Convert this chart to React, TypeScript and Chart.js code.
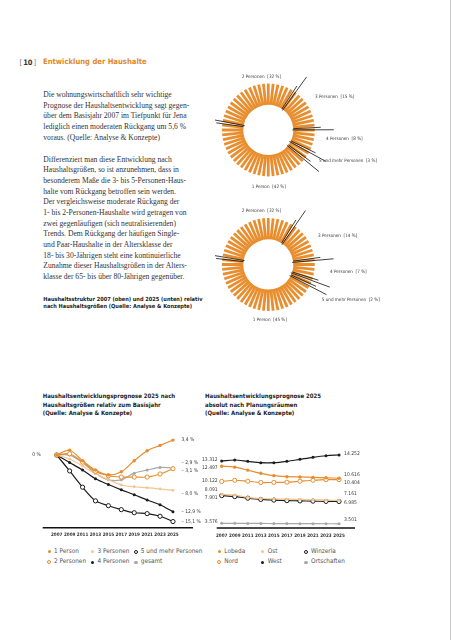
import React, { useEffect, useRef } from 'react';
import { Chart, registerables } from 'chart.js';

Chart.register(...registerables);

// ---------- data ----------
const years = [2007, 2009, 2011, 2013, 2015, 2017, 2019, 2021, 2023, 2025];

const hhCategories = ['1 Person', '2 Personen', '3 Personen', '4 Personen', '5 und mehr Personen'];
const hhShare2007 = [42, 32, 15, 8, 3];
const hhShare2025 = [45, 32, 14, 7, 2];

const relSeriesNames = ['1 Person', '2 Personen', '3 Personen', '4 Personen', '5 und mehr Personen', 'gesamt'];
const rel1Person = [0, 1.1, -1.3, -3.4, -4.5, -3.8, -1.3, 1.0, 2.2, 3.4];
const rel2Personen = [0, 0.3, -1.6, -3.7, -4.7, -5.0, -5.0, -5.0, -4.3, -3.1];
const rel3Personen = [0, -0.9, -2.5, -4.2, -5.6, -6.8, -7.2, -7.4, -7.7, -8.0];
const rel4Personen = [0, -1.7, -3.4, -5.4, -6.7, -7.9, -9.0, -10.2, -11.3, -12.9];
const rel5Plus = [0, -3.6, -7.3, -10.4, -11.5, -12.4, -13.1, -13.3, -13.9, -15.1];
const relGesamt = [0, 0, -1.7, -4.1, -5.6, -5.6, -4.1, -3.4, -2.8, -2.9];

const absSeriesNames = ['Lobeda', 'Nord', 'Ost', 'West', 'Winzerla', 'Ortschaften'];
const absLobeda = [12497, 12350, 11880, 11390, 11020, 10860, 10820, 10760, 10690, 10616];
const absNord = [10122, 10300, 10150, 9950, 9960, 10000, 10150, 10300, 10400, 10404];
const absOst = [8091, 8000, 7640, 7450, 7400, 7350, 7300, 7250, 7200, 7161];
const absWest = [13312, 13470, 13260, 13050, 13050, 13260, 13570, 13880, 14130, 14252];
const absWinzerla = [7901, 7750, 7500, 7300, 7200, 7120, 7080, 7040, 7000, 6985];
const absOrtschaften = [3576, 3570, 3560, 3550, 3540, 3530, 3520, 3515, 3508, 3501];

// ---------- styles ----------
const ORANGE = '#E88E2E';
const LIGHT = '#F4C58E';
const BLACK = '#1c1c1c';
const GREY = '#a8a8a8';
const TEXT = '#3a3a3a';
const NARROW = '"Liberation Sans Narrow", "DejaVu Sans Condensed", "Liberation Sans", sans-serif';
const SERIF = '"Liberation Serif", serif';

const seriesStyles = [
  { color: ORANGE, hollow: false, r: 1.7 },
  { color: ORANGE, hollow: true, r: 2.1 },
  { color: LIGHT, hollow: false, r: 1.4 },
  { color: BLACK, hollow: false, r: 1.5 },
  { color: BLACK, hollow: true, r: 2.1 },
  { color: GREY, hollow: false, r: 1.5 },
];

const fmtPct = (v: number) =>
  v === 0 ? '0 %' : (v < 0 ? '– ' : '') + Math.abs(v).toFixed(1).replace('.', ',') + ' %';
const fmtAbs = (v: number) => String(v).replace(/\B(?=(\d{3})+(?!\d))/g, '.');

// ---------- plugins ----------
const donutDecor = {
  id: 'donutDecor',
  afterDatasetsDraw(chart: any, _a: any, opts: any) {
    const arcs = chart.getDatasetMeta(0).data;
    if (!arcs.length) return;
    const p = arcs[0].getProps(['x', 'y', 'innerRadius', 'outerRadius'], true);
    const cx = p.x, cy = p.y, ri = p.innerRadius, ro = p.outerRadius;
    const ctx = chart.ctx;
    ctx.save();
    // stripes: cut gaps between bars of constant width
    ctx.globalCompositeOperation = 'destination-out';
    const n = opts.stripes;
    const w = opts.barWidth;
    const rz = Math.max(ri - 2, w / (2 * Math.sin(Math.PI / n)));
    const r1 = ro + 2;
    for (let i = 0; i < n; i++) {
      const a1 = (i / n) * Math.PI * 2 + opts.phase;
      const a2 = ((i + 1) / n) * Math.PI * 2 + opts.phase;
      const c1 = Math.cos(a1), s1 = Math.sin(a1), c2 = Math.cos(a2), s2 = Math.sin(a2);
      ctx.beginPath();
      ctx.moveTo(cx + rz * c1 - (w / 2) * s1, cy + rz * s1 + (w / 2) * c1);
      ctx.lineTo(cx + r1 * c1 - (w / 2) * s1, cy + r1 * s1 + (w / 2) * c1);
      ctx.lineTo(cx + r1 * c2 + (w / 2) * s2, cy + r1 * s2 - (w / 2) * c2);
      ctx.lineTo(cx + rz * c2 + (w / 2) * s2, cy + rz * s2 - (w / 2) * c2);
      ctx.closePath();
      ctx.fill();
    }
    ctx.globalCompositeOperation = 'source-over';
    // boundary leader lines
    ctx.strokeStyle = '#111';
    ctx.lineWidth = 0.8;
    arcs.forEach((arc: any) => {
      const a = arc.startAngle;
      const d = 1.4 * Math.PI / 180;
      const seg = (ang: number, ra: number, rb: number) => {
        ctx.beginPath();
        ctx.moveTo(cx + ra * Math.cos(ang), cy + ra * Math.sin(ang));
        ctx.lineTo(cx + rb * Math.cos(ang), cy + rb * Math.sin(ang));
        ctx.stroke();
      };
      seg(a + d, ri - 1, ro + 19);
      seg(a - d, ri, ro + 6);
    });
    // labels
    ctx.fillStyle = TEXT;
    ctx.font = `4.6px ${NARROW}`;
    ctx.textAlign = 'left';
    ctx.textBaseline = 'middle';
    opts.labels.forEach((t: string, i: number) => {
      const o = opts.offsets[i];
      ctx.fillText(t, cx + o[0], cy + o[1]);
    });
    ctx.restore();
  },
};

const lineDecor = {
  id: 'lineDecor',
  afterDraw(chart: any, _a: any, opts: any) {
    const { ctx, chartArea, scales } = chart;
    ctx.save();
    ctx.strokeStyle = '#111';
    ctx.lineWidth = 1.4;
    ctx.beginPath();
    ctx.moveTo(chartArea.left, chartArea.bottom);
    ctx.lineTo(chartArea.right, chartArea.bottom);
    ctx.stroke();
    ctx.fillStyle = '#333';
    ctx.font = `bold 4.6px ${NARROW}`;
    ctx.textAlign = 'center';
    ctx.textBaseline = 'middle';
    years.forEach((yr) => ctx.fillText(String(yr), scales.x.getPixelForValue(yr), chartArea.bottom + 7.5));
    ctx.font = `5px ${NARROW}`;
    ctx.fillStyle = TEXT;
    (opts.startLabels || []).forEach((l: any) => {
      const pt = chart.getDatasetMeta(l.ds).data[0];
      ctx.textAlign = 'right';
      ctx.fillText(l.text, pt.x - l.dx, pt.y + l.dy);
    });
    (opts.endLabels || []).forEach((l: any) => {
      const d = chart.getDatasetMeta(l.ds).data;
      const pt = d[d.length - 1];
      ctx.textAlign = 'left';
      ctx.fillText(l.text, pt.x + l.dx, pt.y + l.dy);
    });
    ctx.restore();
  },
};

// ---------- components ----------
function Donut(props: { left: number; top: number; shares: number[]; rotation: number; offsets: number[][]; pad: any; h: number }) {
  const ref = useRef<HTMLCanvasElement>(null);
  useEffect(() => {
    const chart = new Chart(ref.current as HTMLCanvasElement, {
      type: 'doughnut',
      data: {
        labels: hhCategories,
        datasets: [{ data: props.shares, backgroundColor: ORANGE, borderWidth: 0, hoverOffset: 0 }],
      },
      options: {
        animation: false,
        responsive: false,
        events: [],
        rotation: props.rotation,
        radius: 46.5,
        cutout: '53.8%',
        layout: { padding: props.pad },
        plugins: {
          legend: { display: false },
          tooltip: { enabled: false },
          donutDecor: {
            stripes: 60,
            barWidth: 2.8,
            phase: 0,
            labels: hhCategories.map((c, i) => `${c}  [${props.shares[i]} %]`),
            offsets: props.offsets,
          },
        },
      } as any,
      plugins: [donutDecor],
    });
    return () => chart.destroy();
  }, []);
  return (
    <canvas
      ref={ref}
      width={170}
      height={props.h}
      style={{ position: 'absolute', left: props.left, top: props.top, width: 170, height: props.h }}
    />
  );
}

function LineChart(props: {
  left: number; top: number; series: number[][]; names: string[];
  xmin: number; xmax: number; ymin: number; ymax: number; pad: any;
  startLabels: any[]; endLabels: any[];
}) {
  const ref = useRef<HTMLCanvasElement>(null);
  useEffect(() => {
    const datasets = props.series.map((vals, i) => {
      const st = seriesStyles[i];
      return {
        label: props.names[i],
        data: years.map((y, j) => ({ x: y, y: vals[j] })),
        borderColor: st.color,
        backgroundColor: st.color,
        borderWidth: 1.2,
        pointRadius: st.r,
        pointBackgroundColor: st.hollow ? '#ffffff' : st.color,
        pointBorderColor: st.color,
        pointBorderWidth: st.hollow ? 1 : 0,
        tension: 0.3,
        fill: false,
        clip: false,
      };
    });
    const chart = new Chart(ref.current as HTMLCanvasElement, {
      type: 'line',
      data: { datasets },
      options: {
        animation: false,
        responsive: false,
        events: [],
        layout: { padding: props.pad },
        scales: {
          x: { type: 'linear', min: props.xmin, max: props.xmax, display: false },
          y: { type: 'linear', min: props.ymin, max: props.ymax, display: false },
        },
        plugins: {
          legend: { display: false },
          tooltip: { enabled: false },
          lineDecor: { startLabels: props.startLabels, endLabels: props.endLabels },
        },
      } as any,
      plugins: [lineDecor],
    });
    return () => chart.destroy();
  }, []);
  return (
    <canvas
      ref={ref}
      width={185}
      height={130}
      style={{ position: 'absolute', left: props.left, top: props.top, width: 185, height: 130 }}
    />
  );
}

function T(props: { x: number; y: number; size: number; children: any; style?: any }) {
  return (
    <div
      style={{
        position: 'absolute',
        left: props.x,
        top: props.y - props.size * 0.6,
        fontSize: props.size,
        lineHeight: `${props.size * 1.2}px`,
        whiteSpace: 'nowrap',
        color: TEXT,
        ...props.style,
      }}
    >
      {props.children}
    </div>
  );
}

function Marker(props: { x: number; y: number; color: string; hollow: boolean }) {
  const s = props.hollow ? 4.4 : 3.6;
  return (
    <div
      style={{
        position: 'absolute',
        left: props.x - s / 2,
        top: props.y - s / 2,
        width: s,
        height: s,
        borderRadius: '50%',
        boxSizing: 'border-box',
        background: props.hollow ? '#fff' : props.color,
        border: props.hollow ? `1.1px solid ${props.color}` : 'none',
      }}
    />
  );
}

const para1 = [
  'Die wohnungswirtschaftlich sehr wichtige',
  'Prognose der Haushaltsentwicklung sagt gegen-',
  'über dem Basisjahr 2007 im Tiefpunkt für Jena',
  'lediglich einen moderaten Rückgang um 5,6 %',
  'voraus. (Quelle: Analyse & Konzepte)',
];
const para2 = [
  'Differenziert man diese Entwicklung nach',
  'Haushaltsgrößen, so ist anzunehmen, dass in',
  'besonderem Maße die 3- bis 5-Personen-Haus-',
  'halte vom Rückgang betroffen sein werden.',
  'Der vergleichsweise moderate Rückgang der',
  '1- bis 2-Personen-Haushalte wird getragen von',
  'zwei gegenläufigen (sich neutralisierenden)',
  'Trends. Dem Rückgang der häufigen Single-',
  'und Paar-Haushalte in der Altersklasse der',
  '18- bis 30-Jährigen steht eine kontinuierliche',
  'Zunahme dieser Haushaltsgrößen in der Alters-',
  'klasse der 65- bis über 80-Jährigen gegenüber.',
];

export default function App() {
  const relSeries = [rel1Person, rel2Personen, rel3Personen, rel4Personen, rel5Plus, relGesamt];
  const absSeries = [absLobeda, absNord, absOst, absWest, absWinzerla, absOrtschaften];
  const relEndDy = [0, 2, 3, 0, 0, -5];
  const absStartDy = [1.8, -0.7, -5, -1, 2.4, -1.6];
  const absEndDy = [-3.6, 3.1, -7.1, -1.7, 0.8, -3.8];

  const legendRows = [
    [0, 2, 4],
    [1, 3, 5],
  ];
  const legCols = [49.3, 92.7, 136];
  const legCols2 = [219.3, 262.7, 306];
  const legY = [551.7, 562.3];

  return (
    <div
      style={{
        position: 'fixed',
        left: 0,
        top: 0,
        width: 453,
        height: 640,
        background: '#fff',
        overflow: 'hidden',
        fontFamily: NARROW,
      }}
    >
      <div style={{ position: 'absolute', left: 450, top: 0, width: 1, height: 640, background: '#c9c9c9' }} />

      {/* header */}
      <T x={19.5} y={62} size={7.5} style={{ color: '#777' }}>
        [<span style={{ fontWeight: 'bold', color: '#333', padding: '0 1px' }}>10</span>]
      </T>
      <T x={43} y={62} size={7.6} style={{ fontWeight: 'bold', color: '#E0892C' }}>
        Entwicklung der Haushalte
      </T>

      {para1.map((l, i) => (
        <T key={'a' + i} x={43.3} y={94.7 + i * 10.65} size={7.6} style={{ fontFamily: SERIF, color: '#333' }}>
          {l}
        </T>
      ))}
      {para2.map((l, i) => (
        <T key={'b' + i} x={43.3} y={159.3 + i * 10.67} size={7.6} style={{ fontFamily: SERIF, color: '#333' }}>
          {l}
        </T>
      ))}

      <T x={43.3} y={299} size={5.6} style={{ fontWeight: 'bold', color: '#222' }}>
        Haushaltsstruktur 2007 (oben) und 2025 (unten) relativ
      </T>
      <T x={43.3} y={306} size={5.6} style={{ fontWeight: 'bold', color: '#222' }}>
        nach Haushaltsgrößen (Quelle: Analyse &amp; Konzepte)
      </T>

      <Donut
        left={215}
        top={65}
        h={130}
        shares={hhShare2007}
        rotation={128}
        pad={{ left: 6.8, top: 18.5, right: 70.2, bottom: 18.5 }}
        offsets={[[-16.6, 56.7], [-26.6, -53], [46.7, -33.3], [57.7, 9], [50.7, 30.7]]}
      />
      <Donut
        left={215}
        top={200}
        h={135}
        shares={hhShare2025}
        rotation={116}
        pad={{ left: 6.8, top: 18, right: 70.2, bottom: 24 }}
        offsets={[[-15.6, 54.8], [-26.6, -53.5], [49.7, -28.8], [61.7, 7.2], [53.4, 35.5]]}
      />

      {/* line chart titles */}
      {['Haushaltsentwicklungsprognose 2025 nach', 'Haushaltsgrößen relativ zum Basisjahr', '(Quelle: Analyse & Konzepte)'].map((l, i) => (
        <T key={'t1' + i} x={42.7} y={396 + i * 8.15} size={6} style={{ fontWeight: 'bold', color: '#222' }}>
          {l}
        </T>
      ))}
      {['Haushaltsentwicklungsprognose 2025', 'absolut nach Planungsräumen', '(Quelle: Analyse & Konzepte)'].map((l, i) => (
        <T key={'t2' + i} x={205} y={396 + i * 8.15} size={6} style={{ fontWeight: 'bold', color: '#222' }}>
          {l}
        </T>
      ))}

      <LineChart
        left={20}
        top={415}
        series={relSeries}
        names={relSeriesNames}
        xmin={2004.83}
        xmax={2028.1}
        ymin={-16.5}
        ymax={5.7}
        pad={{ left: 22.7, right: 12, top: 15, bottom: 17.3 }}
        startLabels={[{ ds: 0, text: fmtPct(rel1Person[0]), dx: 16, dy: 0 }]}
        endLabels={relSeries.map((s, i) => ({ ds: i, text: fmtPct(s[s.length - 1]), dx: 8.5, dy: relEndDy[i] }))}
      />
      <LineChart
        left={195}
        top={415}
        series={absSeries}
        names={absSeriesNames}
        xmin={2006.23}
        xmax={2027.45}
        ymin={2841}
        ymax={18157}
        pad={{ left: 21.7, right: 25, top: 15, bottom: 17 }}
        startLabels={absSeries.map((s, i) => ({ ds: i, text: fmtAbs(s[0]), dx: 4, dy: absStartDy[i] }))}
        endLabels={absSeries.map((s, i) => ({ ds: i, text: fmtAbs(s[s.length - 1]), dx: 5, dy: absEndDy[i] }))}
      />

      {/* legends */}
      {legendRows.map((row, r) =>
        row.map((si, c) => (
          <React.Fragment key={`l${r}${c}`}>
            <Marker x={legCols[c]} y={legY[r]} color={seriesStyles[si].color} hollow={seriesStyles[si].hollow} />
            <T x={legCols[c] + 4.8} y={legY[r]} size={6.4} style={{ color: '#555' }}>
              {relSeriesNames[si]}
            </T>
            <Marker x={legCols2[c]} y={legY[r]} color={seriesStyles[si].color} hollow={seriesStyles[si].hollow} />
            <T x={legCols2[c] + 5} y={legY[r]} size={6.4} style={{ color: '#555' }}>
              {absSeriesNames[si]}
            </T>
          </React.Fragment>
        ))
      )}
    </div>
  );
}
